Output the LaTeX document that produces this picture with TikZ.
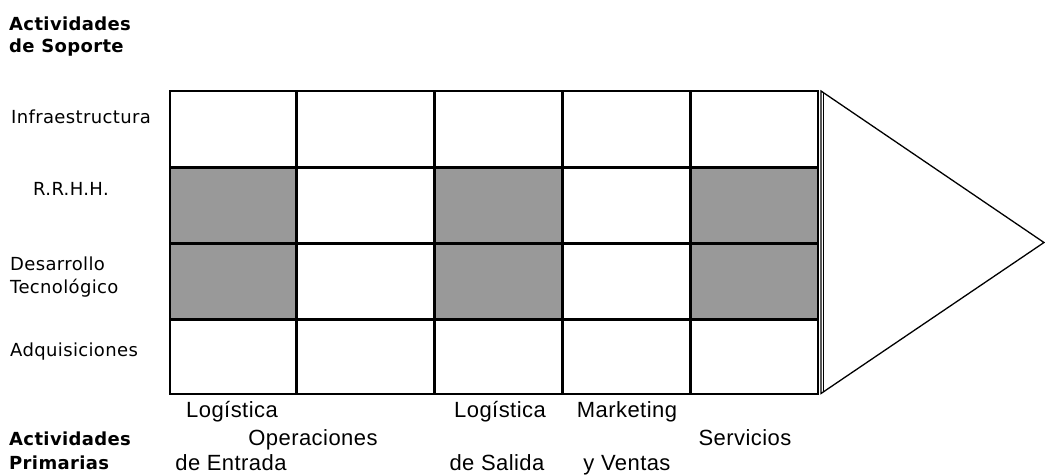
\documentclass[tikz,border=0pt]{standalone}
\usepackage{fontspec}
\setmainfont{Liberation Sans}
\newfontfamily\leftfont[LetterSpace=2]{DejaVu Sans}
\newfontfamily\botfont[LetterSpace=2]{Liberation Sans}
\begin{document}
\begin{tikzpicture}[x=1pt,y=-1pt,
  cellline/.style={line width=3pt},
  outerline/.style={line width=2pt},
  shaded/.style={fill=black!40},
  sidelabel/.style={font=\leftfont\fontsize{18}{20}\selectfont,anchor=base west,inner sep=0pt},
  headlabel/.style={font=\leftfont\bfseries\fontsize{18}{21}\selectfont,anchor=base west,inner sep=0pt},
  botlabel/.style={font=\botfont\fontsize{22}{24}\selectfont,anchor=base,inner sep=0pt},
  tri/.style={line width=1.3pt,line join=miter}]
\useasboundingbox (0,0) rectangle (1045,475);
% shaded cells
\fill[shaded] (169.5,167) rectangle (296.7,319);
\fill[shaded] (434,167) rectangle (562,319);
\fill[shaded] (690,167) rectangle (818,319);
% grid
\foreach \yy in {167,243,319} \draw[cellline] (169.5,\yy) -- (818,\yy);
\foreach \xx in {296.7,434,562,690} \draw[cellline] (\xx,91) -- (\xx,394);
\draw[outerline] (169.5,91) rectangle (818,394);
% triangle
\coordinate (ta) at (821,91);
\coordinate (tb) at (1044,242.5);
\coordinate (tc) at (821,393.5);
\draw[tri] (ta) -- (tb) -- (tc) -- cycle;
\draw[line width=1pt] (823.3,92.5) -- (823.3,392);
% headings
\node[headlabel] (hs1) at (9,30.7) {Actividades};
\node[headlabel] (hs2) at (9,52.3) {de Soporte};
\node[headlabel] (hp1) at (9,445.7) {Actividades};
\node[headlabel] (hp2) at (9,469.3) {Primarias};
% side labels
\node[sidelabel] (l1) at (11,123.8) {Infraestructura};
\node[sidelabel] (l2) at (33,195) {R.R.H.H.};
\node[sidelabel] (l3) at (10,270.7) {Desarrollo};
\node[sidelabel] (l4) at (10,293) {Tecnológico};
\node[sidelabel] (l5) at (10,356.5) {Adquisiciones};
% bottom labels
\node[botlabel] (b1) at (232,417) {Logística};
\node[botlabel] (b2) at (231,470) {de Entrada};
\node[botlabel] (b3) at (313,445) {Operaciones};
\node[botlabel] (b4) at (500,417) {Logística};
\node[botlabel] (b5) at (497,470) {de Salida};
\node[botlabel] (b6) at (627,417) {Marketing};
\node[botlabel] (b7) at (627,470) {y Ventas};
\node[botlabel] (b8) at (745,445) {Servicios};
\end{tikzpicture}
\end{document}
